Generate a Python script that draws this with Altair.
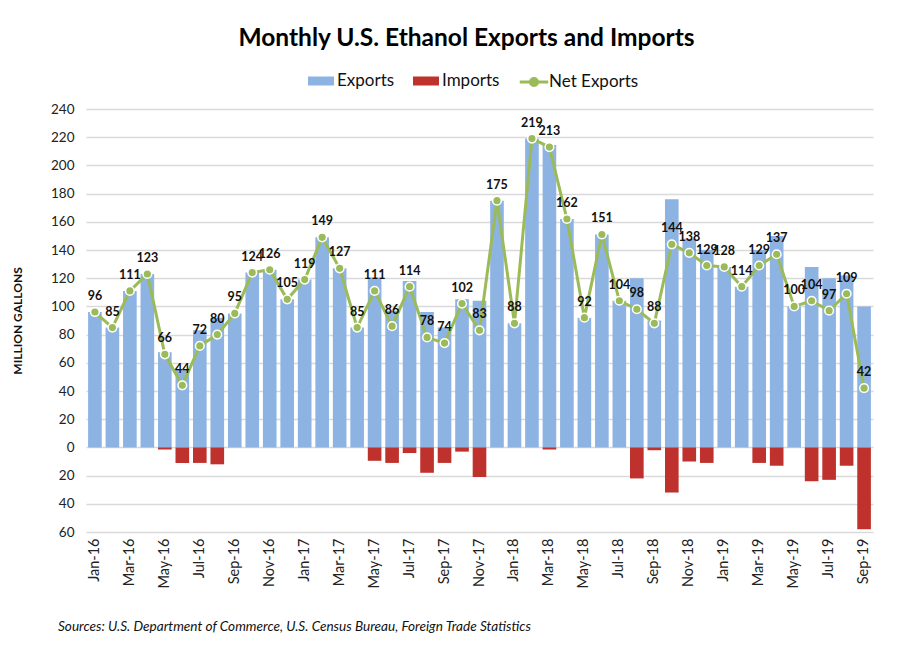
import altair as alt
import pandas as pd

# Monthly U.S. ethanol trade, million gallons
months = [
    "Jan-16", "Feb-16", "Mar-16", "Apr-16", "May-16", "Jun-16", "Jul-16", "Aug-16", "Sep-16", "Oct-16", "Nov-16", "Dec-16",
    "Jan-17", "Feb-17", "Mar-17", "Apr-17", "May-17", "Jun-17", "Jul-17", "Aug-17", "Sep-17", "Oct-17", "Nov-17", "Dec-17",
    "Jan-18", "Feb-18", "Mar-18", "Apr-18", "May-18", "Jun-18", "Jul-18", "Aug-18", "Sep-18", "Oct-18", "Nov-18", "Dec-18",
    "Jan-19", "Feb-19", "Mar-19", "Apr-19", "May-19", "Jun-19", "Jul-19", "Aug-19", "Sep-19",
]
exports = [
    96, 85, 111, 123, 67.5, 55, 83, 92, 95, 124, 126, 105,
    119, 149, 127, 85, 120.5, 97, 118, 96, 85, 105, 104, 175,
    88, 219, 214.5, 162, 92, 151, 104, 120, 90, 176, 148, 140,
    128, 114, 140, 150, 100, 128, 120, 122, 100,
]
imports = [
    0, 0, 0, 0, 1.5, 11, 11, 12, 0, 0, 0, 0,
    0, 0, 0, 0, 9.5, 11, 4, 18, 11, 3, 21, 0,
    0, 0, 1.5, 0, 0, 0, 0, 22, 2, 32, 10, 11,
    0, 0, 11, 13, 0, 24, 23, 13, 58,
]
net_exports = [
    96, 85, 111, 123, 66, 44, 72, 80, 95, 124, 126, 105,
    119, 149, 127, 85, 111, 86, 114, 78, 74, 102, 83, 175,
    88, 219, 213, 162, 92, 151, 104, 98, 88, 144, 138, 129,
    128, 114, 129, 137, 100, 104, 97, 109, 42,
]

FONT = "Lato"
BLUE = "#8DB3E2"
RED = "#BE312C"
GREEN = "#9BBB59"

W, H = 787, 423

bars = pd.DataFrame(
    [{"Month": m, "Series": "Exports", "Value": e} for m, e in zip(months, exports)]
    + [{"Month": m, "Series": "Imports", "Value": -i} for m, i in zip(months, imports)]
)
net = pd.DataFrame({"Month": months, "Series": "Net Exports", "Net": net_exports})

y_ticks = list(range(-60, 241, 20))

x_enc = alt.X(
    "Month:N",
    sort=months,
    scale=alt.Scale(paddingInner=0.22, paddingOuter=0.12),
    axis=alt.Axis(
        values=months[::2],
        labelAngle=270,
        labelFontSize=14.5,
        labelFont=FONT,
        labelColor="#222222",
        labelPadding=6,
        labelOverlap=False,
        ticks=False,
        domain=False,
        grid=False,
        title=None,
    ),
)

y_scale = alt.Scale(domain=[-60, 240], nice=False)

bar_layer = alt.Chart(bars).mark_bar().encode(
    x=x_enc,
    y=alt.Y(
        "Value:Q",
        scale=y_scale,
        axis=alt.Axis(
            values=y_ticks,
            tickCount=len(y_ticks),
            labelExpr="abs(datum.value)",
            labelOverlap=False,
            labelFontSize=13.5,
            labelFont=FONT,
            labelColor="#222222",
            labelPadding=12,
            ticks=False,
            domain=False,
            gridColor="#D9D9D9",
            gridWidth=1.5,
            title="MILLION GALLONS",
            titleFont=FONT,
            titleFontSize=12,
            titleFontWeight="bold",
            titleColor="#111111",
            titleX=-62,
            titleY=H / 2,
        ),
    ),
    color=alt.Color(
        "Series:N",
        scale=alt.Scale(domain=["Exports", "Imports"], range=[BLUE, RED]),
        legend=alt.Legend(
            title=None,
            orient="none",
            direction="horizontal",
            legendX=225,
            legendY=-38,
            symbolType="M-1.3,-0.45L1.3,-0.45L1.3,0.45L-1.3,0.45Z",
            symbolSize=400,
            symbolStrokeWidth=0,
            labelFont=FONT,
            labelFontSize=17,
            labelColor="#111111",
            labelOffset=6,
            columnPadding=18,
        ),
    ),
)

line_layer = alt.Chart(net).mark_line(
    strokeWidth=3,
    point=alt.OverlayMarkDef(filled=True, fill=GREEN, stroke="white", strokeWidth=1.5, size=75),
).encode(
    x=alt.X("Month:N", sort=months),
    y=alt.Y("Net:Q", scale=y_scale),
    color=alt.Color(
        "Series:N",
        scale=alt.Scale(domain=["Net Exports"], range=[GREEN]),
        legend=alt.Legend(
            title=None,
            orient="none",
            legendX=437,
            legendY=-38,
            symbolType="M-1.5,0L1.5,0M0.38,0A0.38,0.38,0,1,1,-0.38,0A0.38,0.38,0,1,1,0.38,0",
            symbolSize=360,
            symbolStrokeWidth=3,
            symbolFillColor=GREEN,
            labelFont=FONT,
            labelFontSize=17,
            labelColor="#111111",
            labelOffset=4,
        ),
    ),
)

label_layer = alt.Chart(net).mark_text(
    font=FONT, fontSize=12.5, fontWeight="bold", color="#111111", dy=-16, baseline="middle"
).encode(
    x=alt.X("Month:N", sort=months),
    y=alt.Y("Net:Q", scale=y_scale),
    text=alt.Text("Net:Q", format="d"),
)

source_layer = alt.Chart(pd.DataFrame({"t": ["Sources: U.S. Department of Commerce, U.S. Census Bureau, Foreign Trade Statistics"]})).mark_text(
    font=FONT, fontSize=13.6, fontStyle="italic", color="#111111", align="left", baseline="alphabetic"
).encode(
    x=alt.value(-28),
    y=alt.value(H + 99),
    text="t:N",
)

chart = (
    alt.layer(bar_layer, line_layer, label_layer, source_layer)
    .resolve_scale(color="independent")
    .properties(
        width=W,
        height=H,
        padding={"left": 86, "top": 109, "right": 27, "bottom": 122},
        autosize=alt.AutoSizeParams(type="none"),
        title=alt.TitleParams(
            "Monthly U.S. Ethanol Exports and Imports",
            font=FONT,
            fontSize=24.5,
            fontWeight="bold",
            color="#000000",
            anchor="middle",
            dx=-13,
            offset=20,
        ),
        background="white",
    )
    .configure_view(stroke=None)
    .configure_axisY(labelOverlap=False)
)

chart.save("out.html", embed_options={"renderer": "svg", "actions": False})
